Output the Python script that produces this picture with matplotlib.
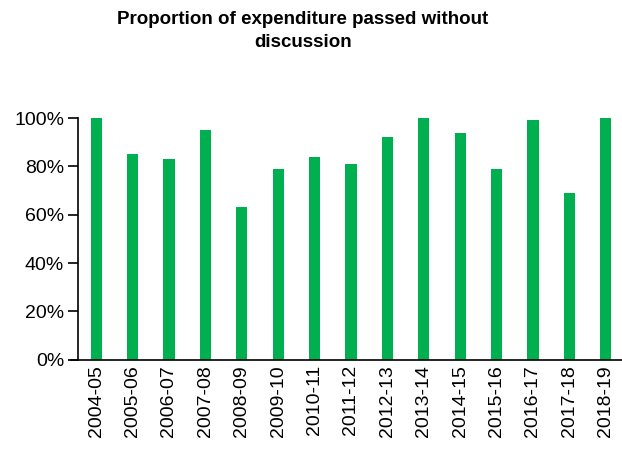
import numpy as np
import matplotlib
matplotlib.use('Agg')
import matplotlib.pyplot as plt
from matplotlib.ticker import PercentFormatter
from matplotlib.lines import Line2D

plt.rcParams['font.family'] = ['Liberation Sans', 'DejaVu Sans']

years = ['2004-05', '2005-06', '2006-07', '2007-08', '2008-09', '2009-10', '2010-11',
         '2011-12', '2012-13', '2013-14', '2014-15', '2015-16', '2016-17', '2017-18', '2018-19']
share = [100, 85, 83, 95, 63, 79, 84, 81, 92, 100, 94, 79, 99, 69, 100]

fig = plt.figure(figsize=(6.22, 4.5), dpi=100)
ax = fig.add_axes([0.1254, 0.2007, 0.8778, 0.537])

x = np.arange(len(years))
ax.bar(x, share, width=0.31, color='#00b050')

ax.set_xlim(-0.5, len(years) - 0.5)
ax.set_ylim(0, 100)
ax.set_yticks(np.arange(0, 101, 20))
ax.yaxis.set_major_formatter(PercentFormatter(decimals=0))
ax.set_xticks(x)
ax.set_xticklabels(years, rotation=90)
ax.tick_params(axis='y', labelsize=14, length=7, width=1.2, direction='out', pad=3)
ax.tick_params(axis='x', labelsize=14, length=0, pad=4)

for s in ['top', 'right', 'bottom']:
    ax.spines[s].set_visible(False)
ax.spines['left'].set_linewidth(1.2)
# horizontal axis line reaches out to the tick marks
ax.add_line(Line2D([-0.013, 1], [0, 0], transform=ax.transAxes, color='black',
                   linewidth=1.2, clip_on=False))

fig.text(0.487, 0.975, 'Proportion of expenditure passed without\ndiscussion',
         ha='center', va='top', fontsize=13.5, fontweight='bold', linespacing=1.45)

fig.savefig('out.png', dpi=100)
